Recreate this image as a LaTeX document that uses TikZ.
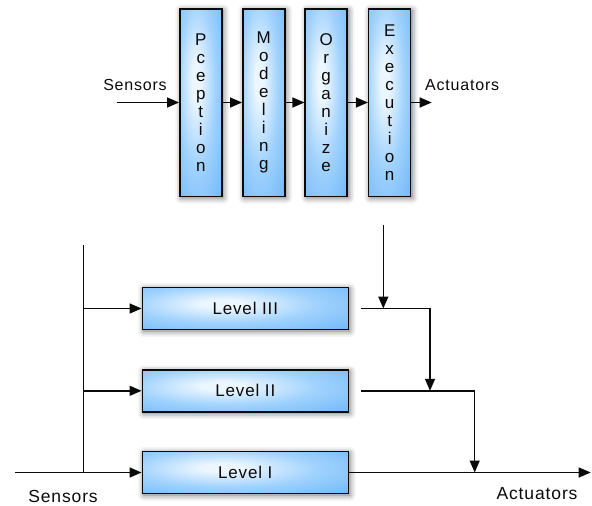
\documentclass[tikz,border=0pt]{standalone}
\usepackage{fontspec}
\setmainfont{Liberation Sans}
\newfontfamily\lblfont{Liberation Sans}[LetterSpace=5.0]
\usetikzlibrary{arrows.meta,shadows.blur}

\definecolor{glowin}{RGB}{236,246,255}
\definecolor{glowmid}{RGB}{160,210,253}
\definecolor{glowout}{RGB}{110,182,248}
\definecolor{ink}{RGB}{10,10,10}

% soft glow, brightest a little up and left of the middle
\pgfdeclareradialshading{boxglow}{\pgfpoint{-6bp}{6bp}}{%
  color(0bp)=(glowin); color(5bp)=(glowin); color(22bp)=(glowmid); color(42bp)=(glowout); color(100bp)=(glowout)}

\tikzset{
  blockbase/.style={draw=ink, line width=1.5pt, shading=boxglow, inner sep=0pt, text=ink,
    blur shadow={shadow xshift=1.5pt, shadow yshift=-1.5pt, shadow blur radius=6pt, shadow opacity=60}},
  stage/.style={blockbase, minimum width=42pt, minimum height=187.5pt,
    font=\lblfont\fontsize{17}{18}\selectfont, align=center},
  level/.style={blockbase, minimum width=206pt, minimum height=42pt,
    font=\lblfont\fontsize{17}{20}\selectfont},
  caption/.style={text=ink, inner sep=0pt},
  wire/.style={draw=ink, line width=1.5pt},
  flow/.style={wire, -{Triangle[length=12pt,width=10pt]}},
}

\begin{document}
\begin{tikzpicture}[x=1pt,y=-1pt]
  \useasboundingbox (0,0) rectangle (592,506);

  % sequential chain of processing stages
  \node[stage] (perc) at (200.8,102.5) {P\\c\\e\\p\\t\\i\\o\\n};
  \node[stage] (model) at (263.8,102.5) {M\\o\\d\\e\\l\\i\\n\\g};
  \node[stage] (org) at (326.2,102.5) {O\\r\\g\\a\\n\\i\\z\\e};
  \node[stage] (exec) at (389.7,102.5) {E\\x\\e\\c\\u\\t\\i\\o\\n};

  \node[caption, font=\lblfont\fontsize{16}{18}\selectfont] (sensTop) at (135,85) {Sensors};
  \node[caption, font=\lblfont\fontsize{16}{18}\selectfont, anchor=west] (actTop) at (425,85) {Actuators};

  \coordinate (sIn) at (116.7,102.5);
  \coordinate (aOut) at (431.7,102.5);

  \draw[flow] (sIn) -- (perc.west);
  \draw[flow] (perc.east) -- (model.west);
  \draw[flow] (model.east) -- (org.west);
  \draw[flow] (org.east) -- (exec.west);
  \draw[flow] (exec.east) -- (aOut);

  % layered arrangement
  \node[level] (l3) at (245.3,308.5) {Level III};
  \node[level] (l2) at (245.3,390.8) {Level II};
  \node[level] (l1) at (245.3,472.5) {Level I};

  \node[caption, font=\lblfont\fontsize{17.5}{20}\selectfont] (sensBot) at (63,496) {Sensors};
  \node[caption, font=\lblfont\fontsize{17.5}{20}\selectfont] (actBot) at (537,494) {Actuators};

  \coordinate (busTop) at (83.5,245);
  \coordinate (busL3) at (83.5,308.5);
  \coordinate (busL2) at (83.5,390.8);
  \coordinate (busL1) at (83.5,472.5);
  \coordinate (sStart) at (15,472.5);

  \coordinate (o3) at (361,308.5);
  \coordinate (j3) at (383.3,308.5);
  \coordinate (c3) at (430,308.5);
  \coordinate (m2) at (430,390.8);
  \coordinate (o2) at (361,390.8);
  \coordinate (c2) at (474.7,390.8);
  \coordinate (m1) at (474.7,472.5);
  \coordinate (aEnd) at (590.7,472.5);
  \coordinate (cmd) at (383.3,225);

  \draw[wire, line width=1.2pt] (busTop) -- (busL1);
  \draw[flow] (sStart) -- (l1.west);
  \draw[flow] (busL3) -- (l3.west);
  \draw[flow] (busL2) -- (l2.west);

  \draw[flow] (cmd) -- (j3);
  \draw[flow] (o3) -- (c3) -- (m2);
  \draw[flow] (o2) -- (c2) -- (m1);
  \draw[flow] (l1.east) -- (aEnd);
\end{tikzpicture}
\end{document}
